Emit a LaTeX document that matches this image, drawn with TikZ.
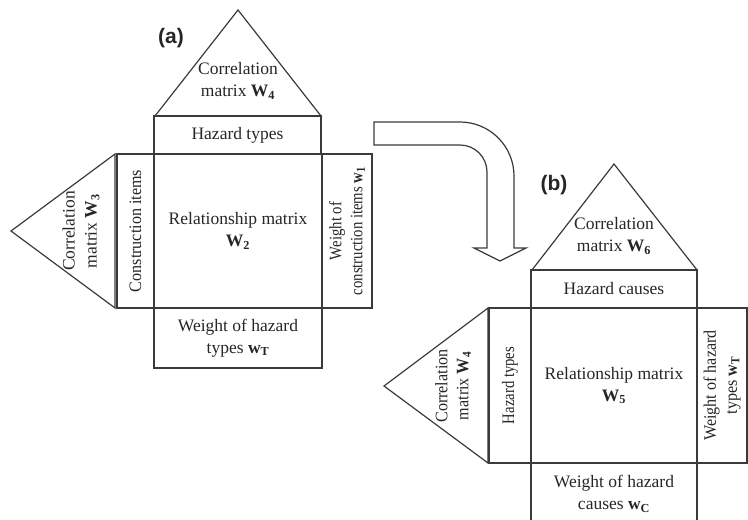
\documentclass[tikz,border=0pt]{standalone}
\usepackage{fontspec}
\setmainfont{Liberation Serif}
\newfontfamily\labfont{Liberation Sans}
\newfontfamily\cNine[FakeStretch=0.92]{Liberation Serif}
\newfontfamily\cEight[FakeStretch=0.84]{Liberation Serif}
\newcommand\fs{\fontsize{17.5}{22}\selectfont}
\newcommand\fsa{\cNine\fontsize{17.5}{21}\selectfont}
\newcommand\fsb{\cEight\fontsize{17.5}{21}\selectfont}
\newcommand\mW[1]{\textbf{W\textsubscript{#1}}}
\newcommand\mw[1]{\textbf{w\textsubscript{#1}}}
\definecolor{lc}{HTML}{3A3A3A}
\tikzset{
  ln/.style={draw=lc, line width=1.2pt, line join=miter},
  box/.style={ln, inner sep=0pt, outer sep=0pt, align=center, font=\fs, text=black!85},
  txt/.style={inner sep=0pt, align=center, font=\fs, text=black!85},
  lab/.style={inner sep=0pt, font=\labfont\bfseries\fontsize{21}{24}\selectfont, text=black!85},
}
\begin{document}
\begin{tikzpicture}[x=1pt,y=-1pt]
\useasboundingbox (0,0) rectangle (748,520);
% ---------- (a) ----------
\node[lab] (la) at (171,38) {(a)};
\draw[ln] (238,10) -- (155,116) -- (321,116) -- cycle;
\node[txt] (ta) at (238,81) {Correlation\\matrix \mW{4}};
\node[box, minimum width=167pt, minimum height=38pt] (hta) at (237.5,135) {Hazard types};
\node[box, minimum width=168pt, minimum height=154pt] (rela) at (238,231) {Relationship matrix\\\mW{2}};
\node[box, rotate=90, minimum width=154pt, minimum height=37pt, font=\fsa] (cia) at (135.5,231) {Construction items};
\node[box, rotate=90, minimum width=154pt, minimum height=50pt, font=\fsb] (wca) at (347,231) {Weight of\\construction items \mw{1}};
\node[box, minimum width=168pt, minimum height=60pt] (wta) at (238,338) {Weight of hazard\\types \mw{T}};
\draw[ln] (115,154) -- (11,231) -- (115,308) -- cycle;
\node[txt, rotate=90] (tla) at (81,231) {Correlation\\matrix \mW{3}};
% ---------- arrow ----------
\draw[ln] (374,122) -- (460,122) .. controls (489.8,122) and (514,146.2) .. (514,176)
  -- (514,248) -- (526,248) -- (500,261) -- (474,248) -- (487,248) -- (487,172)
  .. controls (487,157.1) and (474.9,145) .. (460,145) -- (374,145) -- cycle;
% ---------- (b) ----------
\node[lab] (lb) at (554,185) {(b)};
\draw[ln] (614,164) -- (532,270) -- (697,270) -- cycle;
\node[txt] (tb) at (614,236) {Correlation\\matrix \mW{6}};
\node[box, minimum width=166pt, minimum height=38pt] (hcb) at (614,289) {Hazard causes};
\node[box, minimum width=166pt, minimum height=155pt] (relb) at (614,385.5) {Relationship matrix\\\mW{5}};
\node[box, rotate=90, minimum width=155pt, minimum height=42pt, font=\fsb] (htb) at (510,385.5) {Hazard types};
\node[box, rotate=90, minimum width=155pt, minimum height=50pt, font=\fsa] (wtb) at (722,385.5) {Weight of hazard\\types \mw{T}};
\node[box, minimum width=166pt, minimum height=62pt] (wcb) at (614,494) {Weight of hazard\\causes \mw{C}};
\draw[ln] (488,308) -- (384,386) -- (488,463) -- cycle;
\node[txt, rotate=90, font=\fsa] (tlb) at (453,386) {Correlation\\matrix \mW{4}};
\end{tikzpicture}
\end{document}
